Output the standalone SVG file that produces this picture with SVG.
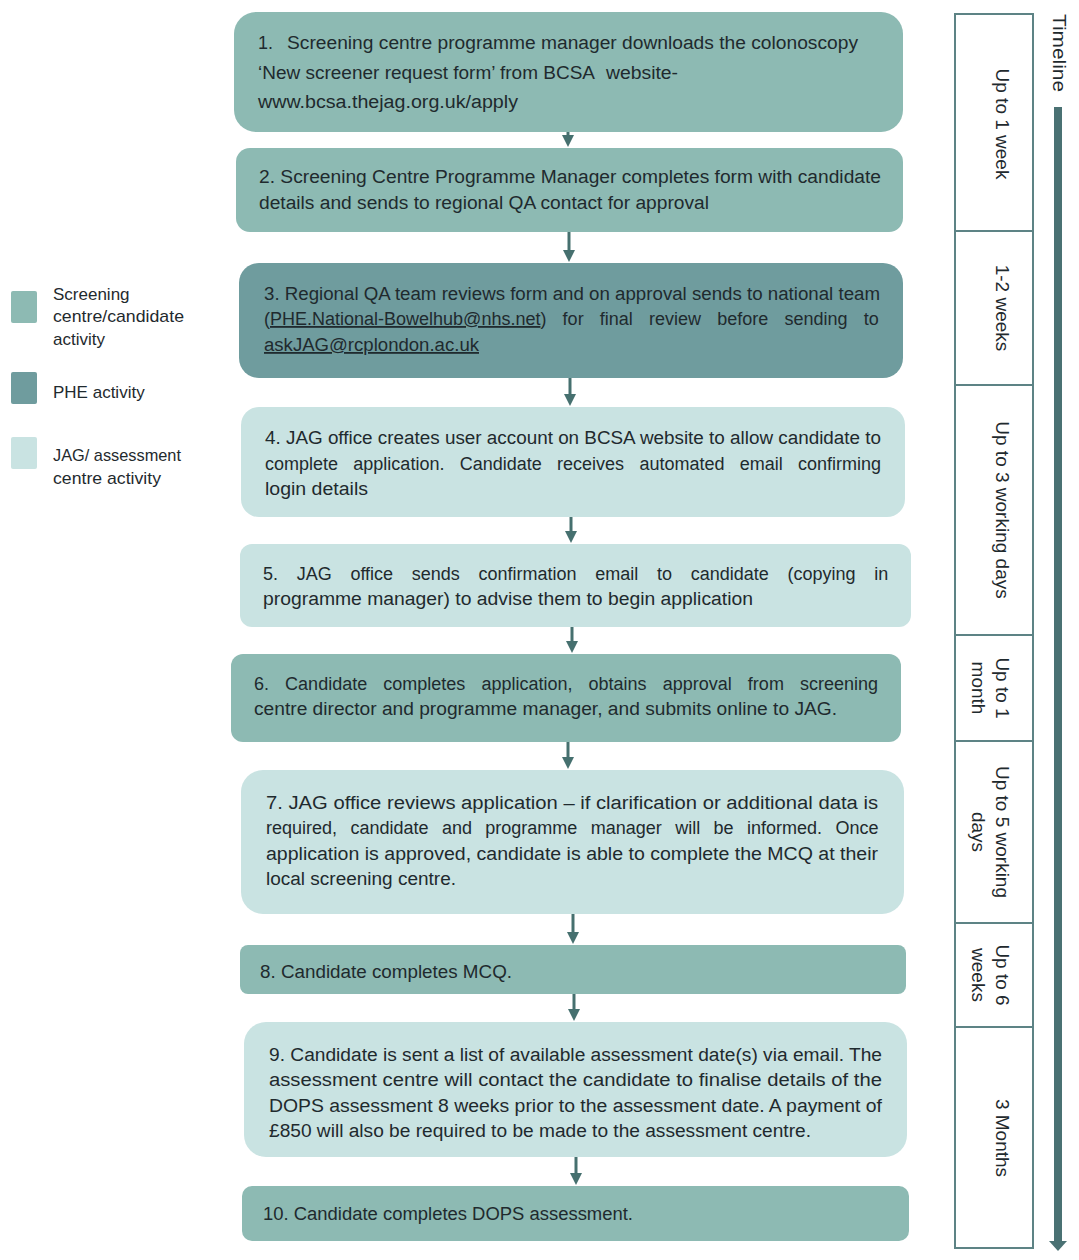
<svg xmlns="http://www.w3.org/2000/svg" width="1079" height="1260" viewBox="0 0 1079 1260">
<style>
text{font-family:"Liberation Sans",Arial,sans-serif;font-size:18px;fill:#1f2a2e}
.mid{fill:#8dbab3}
.dark{fill:#6f9c9e}
.light{fill:#c9e3e2}
.conn{stroke:#46706f;stroke-width:3;fill:none}
.seg{fill:#fff;stroke:#5d8385;stroke-width:2}
.tl{font-size:19px}
.leg{font-size:17px}
</style>
<defs>
<marker id="ah" markerWidth="4" markerHeight="4" refX="2" refY="2" orient="auto" markerUnits="strokeWidth">
<path d="M0,0 L4,2 L0,4 Z" fill="#46706f"/>
</marker>
</defs>
<rect width="1079" height="1260" fill="#fff"/>

<g id="connectors">
<line class="conn" x1="568" y1="132" x2="568" y2="141" marker-end="url(#ah)"/>
<line class="conn" x1="569" y1="232" x2="569" y2="256" marker-end="url(#ah)"/>
<line class="conn" x1="570" y1="378" x2="570" y2="400" marker-end="url(#ah)"/>
<line class="conn" x1="571" y1="517" x2="571" y2="537" marker-end="url(#ah)"/>
<line class="conn" x1="572" y1="627" x2="572" y2="647" marker-end="url(#ah)"/>
<line class="conn" x1="568" y1="742" x2="568" y2="763" marker-end="url(#ah)"/>
<line class="conn" x1="573" y1="914" x2="573" y2="938" marker-end="url(#ah)"/>
<line class="conn" x1="574" y1="994" x2="574" y2="1015" marker-end="url(#ah)"/>
<line class="conn" x1="576" y1="1157" x2="576" y2="1179" marker-end="url(#ah)"/>
</g>

<g id="legend">
<rect class="mid" x="11" y="291" width="26" height="32" rx="2"/>
<text class="leg" x="53" y="300">Screening</text>
<text class="leg" x="53" y="322" textLength="131" lengthAdjust="spacingAndGlyphs">centre/candidate</text>
<text class="leg" x="53" y="345">activity</text>
<rect class="dark" x="11" y="372" width="26" height="32" rx="2"/>
<text class="leg" x="53" y="398">PHE activity</text>
<rect class="light" x="11" y="437" width="26" height="32" rx="2"/>
<text class="leg" x="53" y="461" textLength="128" lengthAdjust="spacingAndGlyphs">JAG/ assessment</text>
<text class="leg" x="53" y="484" textLength="108" lengthAdjust="spacingAndGlyphs">centre activity</text>
</g>

<g id="n1">
<rect class="mid" x="234" y="12" width="669" height="120" rx="22"/>
<text y="49"><tspan x="258">1.</tspan><tspan x="287" textLength="571" lengthAdjust="spacingAndGlyphs">Screening centre programme manager downloads the colonoscopy</tspan></text>
<text y="79"><tspan x="258" textLength="337" lengthAdjust="spacingAndGlyphs">‘New screener request form’ from BCSA</tspan><tspan x="606" textLength="72" lengthAdjust="spacingAndGlyphs">website-</tspan></text>
<text x="258" y="108" textLength="260" lengthAdjust="spacingAndGlyphs">www.bcsa.thejag.org.uk/apply</text>
</g>

<g id="n2">
<rect class="mid" x="236" y="148" width="667" height="84" rx="14"/>
<text x="259" y="183" textLength="622" lengthAdjust="spacingAndGlyphs">2. Screening Centre Programme Manager completes form with candidate</text>
<text x="259" y="209" textLength="450" lengthAdjust="spacingAndGlyphs">details and sends to regional QA contact for approval</text>
</g>

<g id="n3">
<rect class="dark" x="239" y="263" width="664" height="115" rx="20"/>
<text x="264" y="300" textLength="616" lengthAdjust="spacingAndGlyphs">3. Regional QA team reviews form and on approval sends to national team</text>
<text y="325" word-spacing="11.2"><tspan x="264">(</tspan><tspan text-decoration="underline">PHE.National-Bowelhub@nhs.net</tspan><tspan>) for final review before sending to</tspan></text>
<text x="264" y="351" textLength="215" lengthAdjust="spacingAndGlyphs" text-decoration="underline">askJAG@rcplondon.ac.uk</text>
</g>

<g id="n4">
<rect class="light" x="241" y="407" width="664" height="110" rx="18"/>
<text x="265" y="444" textLength="616" lengthAdjust="spacingAndGlyphs">4. JAG office creates user account on BCSA website to allow candidate to</text>
<text x="265" y="470" word-spacing="10.3">complete application. Candidate receives automated email confirming</text>
<text x="265" y="495" textLength="103" lengthAdjust="spacingAndGlyphs">login details</text>
</g>

<g id="n5">
<rect class="light" x="240" y="544" width="671" height="83" rx="12"/>
<text x="263" y="580" word-spacing="13.7">5. JAG office sends confirmation email to candidate (copying in</text>
<text x="263" y="605" textLength="490" lengthAdjust="spacingAndGlyphs">programme manager) to advise them to begin application</text>
</g>

<g id="n6">
<rect class="mid" x="231" y="654" width="670" height="88" rx="12"/>
<text x="254" y="690" word-spacing="11.1">6. Candidate completes application, obtains approval from screening</text>
<text x="254" y="715" textLength="583" lengthAdjust="spacingAndGlyphs">centre director and programme manager, and submits online to JAG.</text>
</g>

<g id="n7">
<rect class="light" x="241" y="770" width="663" height="144" rx="22"/>
<text x="266" y="809" textLength="612" lengthAdjust="spacingAndGlyphs">7. JAG office reviews application – if clarification or additional data is</text>
<text x="266" y="834" word-spacing="8.4">required, candidate and programme manager will be informed. Once</text>
<text x="266" y="860" textLength="612" lengthAdjust="spacingAndGlyphs">application is approved, candidate is able to complete the MCQ at their</text>
<text x="266" y="885" textLength="190" lengthAdjust="spacingAndGlyphs">local screening centre.</text>
</g>

<g id="n8">
<rect class="mid" x="240" y="945" width="666" height="49" rx="8"/>
<text x="260" y="978" textLength="252" lengthAdjust="spacingAndGlyphs">8. Candidate completes MCQ.</text>
</g>

<g id="n9">
<rect class="light" x="244" y="1022" width="663" height="135" rx="22"/>
<text x="269" y="1061" textLength="613" lengthAdjust="spacingAndGlyphs">9. Candidate is sent a list of available assessment date(s) via email. The</text>
<text x="269" y="1086" textLength="613" lengthAdjust="spacingAndGlyphs">assessment centre will contact the candidate to finalise details of the</text>
<text x="269" y="1112" textLength="613" lengthAdjust="spacingAndGlyphs">DOPS assessment 8 weeks prior to the assessment date. A payment of</text>
<text x="269" y="1137" textLength="542" lengthAdjust="spacingAndGlyphs">£850 will also be required to be made to the assessment centre.</text>
</g>

<g id="n10">
<rect class="mid" x="242" y="1186" width="667" height="55" rx="10"/>
<text x="263" y="1220" textLength="370" lengthAdjust="spacingAndGlyphs">10. Candidate completes DOPS assessment.</text>
</g>

<g id="timeline">
<rect class="seg" x="955" y="14" width="78" height="217"/>
<rect class="seg" x="955" y="231" width="78" height="154"/>
<rect class="seg" x="955" y="385" width="78" height="250"/>
<rect class="seg" x="955" y="635" width="78" height="106"/>
<rect class="seg" x="955" y="741" width="78" height="182"/>
<rect class="seg" x="955" y="923" width="78" height="104"/>
<rect class="seg" x="955" y="1027" width="78" height="221"/>
<text class="tl" text-anchor="middle" transform="translate(996,124) rotate(90)">Up to 1 week</text>
<text class="tl" text-anchor="middle" transform="translate(996,308) rotate(90)">1-2 weeks</text>
<text class="tl" text-anchor="middle" transform="translate(996,510) rotate(90)">Up to 3 working days</text>
<text class="tl" text-anchor="middle" transform="translate(996,688) rotate(90)">Up to 1</text>
<text class="tl" text-anchor="middle" transform="translate(972,688) rotate(90)">month</text>
<text class="tl" text-anchor="middle" transform="translate(996,832) rotate(90)">Up to 5 working</text>
<text class="tl" text-anchor="middle" transform="translate(972,832) rotate(90)">days</text>
<text class="tl" text-anchor="middle" transform="translate(996,975) rotate(90)">Up to 6</text>
<text class="tl" text-anchor="middle" transform="translate(972,975) rotate(90)">weeks</text>
<text class="tl" text-anchor="middle" transform="translate(996,1138) rotate(90)">3 Months</text>
<text text-anchor="middle" transform="translate(1053,53) rotate(90)" font-size="19" textLength="78" lengthAdjust="spacingAndGlyphs">Timeline</text>
<rect x="1054" y="107" width="8" height="1136" fill="#4a7173"/>
<path d="M1049,1241 L1067,1241 L1058,1251 Z" fill="#4a7173"/>
</g>
</svg>
